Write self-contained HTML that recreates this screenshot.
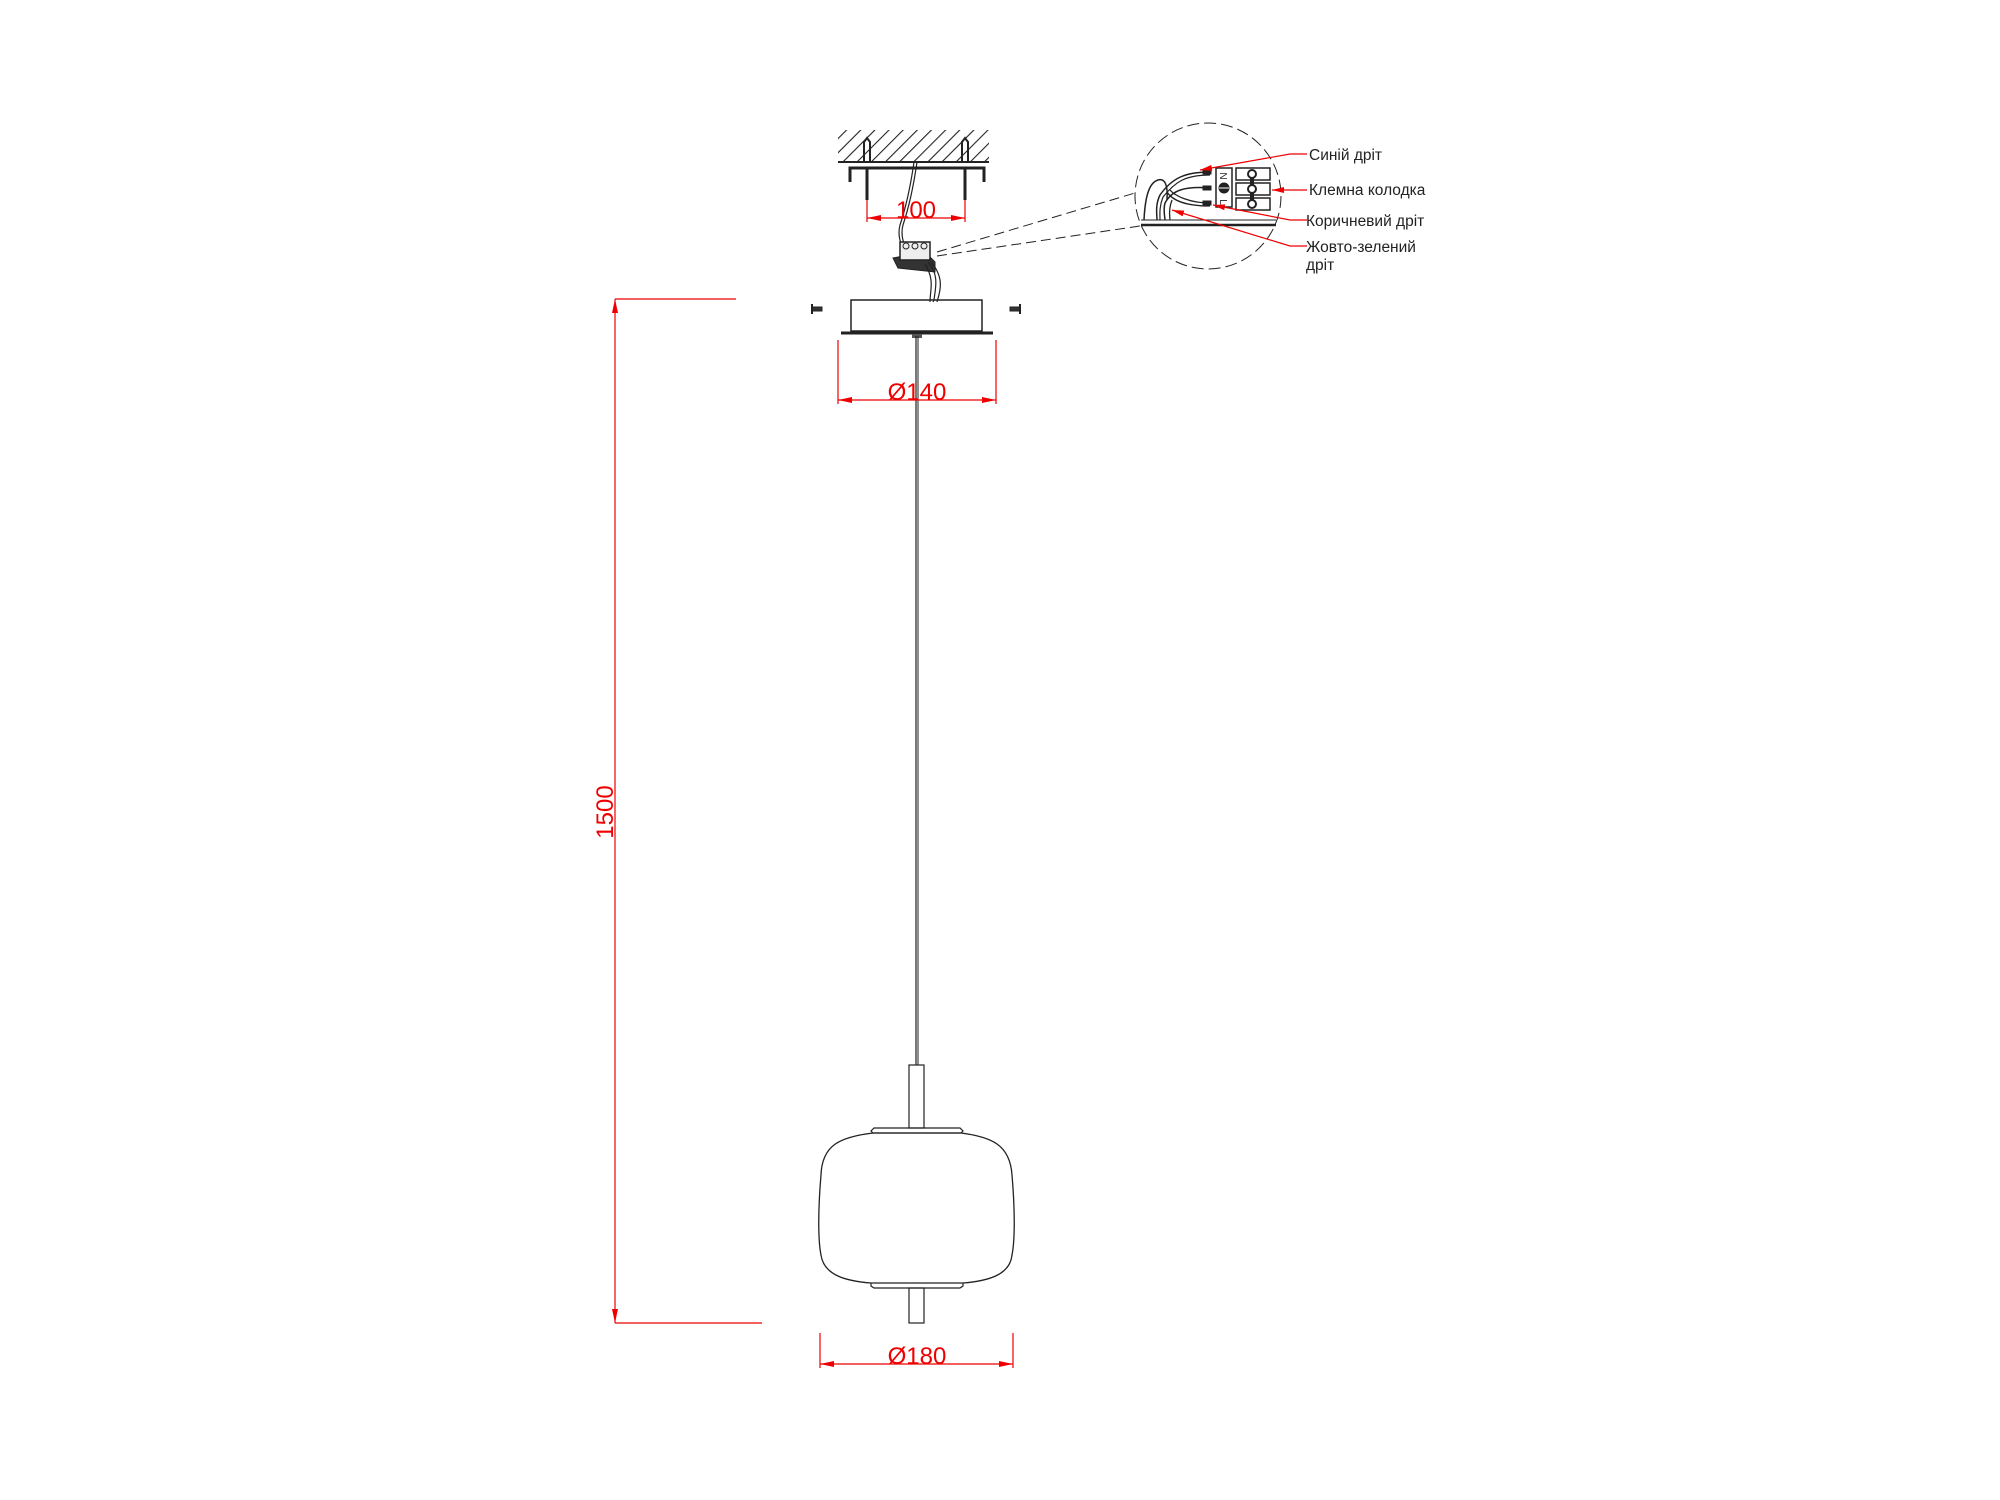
<!DOCTYPE html>
<html><head><meta charset="utf-8"><style>html,body{margin:0;padding:0;background:#fff}svg{display:block}</style></head>
<body>
<svg width="2000" height="1500" viewBox="0 0 2000 1500" xmlns="http://www.w3.org/2000/svg" font-family="Liberation Sans, DejaVu Sans, sans-serif">
<defs>
<pattern id="h" width="10" height="10" patternUnits="userSpaceOnUse" patternTransform="rotate(45)"><line x1="0" y1="0" x2="0" y2="10" stroke="#222" stroke-width="2.2"/></pattern>
<marker id="a" markerWidth="12" markerHeight="6" refX="12" refY="3" orient="auto" markerUnits="userSpaceOnUse"><path d="M0,0 L12,3 L0,6z" fill="#e00"/></marker>
<marker id="s" markerWidth="14" markerHeight="6" refX="14" refY="3" orient="auto-start-reverse" markerUnits="userSpaceOnUse"><path d="M0,0 L14,3 L0,6z" fill="#e00"/></marker>
</defs>
<g fill="none" stroke="#222">
<rect x="838" y="130" width="151" height="32" fill="url(#h)" stroke="none"/>
<line x1="838" y1="162" x2="989" y2="162" stroke-width="2"/>
<path d="M850,182 V168 H984 V182" stroke-width="3"/>
<path d="M864,162 V142 L867,138 L870,142 V162" stroke-width="2"/>
<path d="M962,162 V142 L965,138 L968,142 V162" stroke-width="2"/>
<path d="M867,168 V200" stroke-width="3"/><path d="M965,168 V200" stroke-width="3"/>
<path d="M914,162 C910,190 905,210 900,225 C896,240 905,250 908,262" stroke-width="1.2"/>
<path d="M917,162 C913,190 908,210 903,225 C899,240 908,250 911,262" stroke-width="1.2"/>
<path d="M893,258 L925,252 L935,262 L935,272 L898,268z" fill="#333" stroke-width="1"/>
<rect x="900" y="242" width="30" height="18" fill="#eee" stroke-width="1.5"/>
<circle cx="906" cy="246" r="3"/><circle cx="915" cy="246" r="3"/><circle cx="924" cy="246" r="3"/>
<path d="M928,262 C940,275 935,290 934,300 L933,302" stroke-width="1.2"/>
<path d="M925,264 C935,280 930,290 930,302" stroke-width="1.2"/>
<path d="M931,262 C945,278 940,292 937,302" stroke-width="1.2"/>
<path d="M937,252 L1135,193 M937,256 L1140,226" stroke-width="1" stroke-dasharray="10,5"/>
<rect x="851" y="300" width="131" height="31" stroke-width="1.5"/>
<line x1="841" y1="333" x2="993" y2="333" stroke-width="3"/>
<rect x="812" y="307" width="10" height="4" fill="#333" stroke-width="1"/><path d="M812,304 V314" stroke-width="2"/>
<rect x="1010" y="307" width="10" height="4" fill="#333" stroke-width="1"/><path d="M1020,304 V314" stroke-width="2"/>
<rect x="912" y="334" width="10" height="4" fill="#555" stroke="none"/>
<line x1="916" y1="336" x2="916" y2="1065" stroke-width="1.2"/>
<line x1="918" y1="336" x2="918" y2="1065" stroke-width="1"/>
<rect x="909" y="1065" width="15" height="63" stroke-width="1.2"/>
<path d="M873,1133 L871,1131 L874,1128 H960 L963,1131 L961,1133z" stroke-width="1.2"/>
<path d="M873,1133 C840,1137 822,1145 821,1175 C818,1210 818,1240 821,1255 C824,1275 845,1281 871,1283 H963 C988,1281 1010,1275 1012,1255 C1015,1240 1015,1210 1012,1175 C1010,1145 992,1137 961,1133z" stroke-width="1.3"/>
<path d="M871,1283 V1286 L874,1288 H960 L963,1286 V1283" stroke-width="1.2"/>
<rect x="909" y="1288" width="15" height="35" stroke-width="1.2"/>
<circle cx="1208" cy="196" r="73" stroke-width="1" stroke-dasharray="12,5"/>
<line x1="1141" y1="225" x2="1276" y2="225" stroke-width="2.5"/>
<line x1="1141" y1="220" x2="1276" y2="220" stroke-width="1"/>
<rect x="1216" y="168" width="16" height="39" stroke-width="1.5"/>
<text x="1224" y="180" font-size="10" fill="#222" stroke="none" text-anchor="middle" transform="rotate(90 1224 176)">N</text>
<circle cx="1224" cy="188" r="5" fill="#222"/><line x1="1219" y1="188" x2="1229" y2="188" stroke="#fff" stroke-width="1"/>
<text x="1224" y="206" font-size="10" fill="#222" stroke="none" text-anchor="middle" transform="rotate(90 1224 202)">L</text>
<rect x="1236" y="168" width="34" height="12" stroke-width="1.5"/>
<rect x="1236" y="183" width="34" height="12" stroke-width="1.5"/>
<rect x="1236" y="198" width="34" height="12" stroke-width="1.5"/>
<line x1="1252" y1="174" x2="1252" y2="204" stroke-width="4"/>
<circle cx="1252" cy="174" r="4" fill="#fff" stroke-width="2"/><circle cx="1252" cy="189" r="4" fill="#fff" stroke-width="2"/><circle cx="1252" cy="204" r="4" fill="#fff" stroke-width="2"/>
<path d="M1144,220 C1145,200 1148,183 1158,180 C1165,178 1168,185 1167,200" stroke-width="1.5"/>
<path d="M1210,172 C1185,172 1172,178 1160,195 C1155,205 1157,215 1157,220" stroke-width="1.5"/>
<path d="M1210,175 C1185,175 1175,182 1163,197 C1159,207 1160,215 1160,220" stroke-width="1.2"/>
<path d="M1210,188 C1185,186 1172,190 1165,203 C1163,210 1165,218 1165,220" stroke-width="1.5"/>
<path d="M1210,203 C1190,203 1175,196 1170,190 M1210,206 C1185,206 1172,200 1167,192" stroke-width="1.3"/>
<path d="M1172,200 C1168,210 1170,218 1170,220" stroke-width="1.3"/>
<rect x="1203" y="170" width="8" height="4" fill="#222"/><rect x="1203" y="186" width="8" height="4" fill="#222"/><rect x="1203" y="201" width="8" height="4" fill="#222"/>
</g>
<g stroke="#e00" stroke-width="1.2" fill="none">
<path d="M1307,154 H1290 L1200,170" marker-end="url(#a)"/>
<path d="M1307,190 H1272" marker-end="url(#a)"/>
<path d="M1307,220 H1290 L1213,205" marker-end="url(#a)"/>
<path d="M1307,246 H1290 L1172,210" marker-end="url(#a)"/>
<line x1="867" y1="200" x2="867" y2="222"/><line x1="965" y1="200" x2="965" y2="222"/>
<line x1="867" y1="218" x2="965" y2="218" marker-start="url(#s)" marker-end="url(#s)"/>
<line x1="838" y1="340" x2="838" y2="404"/><line x1="996" y1="340" x2="996" y2="404"/>
<line x1="838" y1="400" x2="996" y2="400" marker-start="url(#s)" marker-end="url(#s)"/>
<line x1="820" y1="1333" x2="820" y2="1368"/><line x1="1013" y1="1333" x2="1013" y2="1368"/>
<line x1="820" y1="1364" x2="1013" y2="1364" marker-start="url(#s)" marker-end="url(#s)"/>
<line x1="615" y1="299" x2="736" y2="299"/><line x1="615" y1="1323" x2="762" y2="1323"/>
<line x1="615" y1="299" x2="615" y2="1323" marker-start="url(#s)" marker-end="url(#s)"/>
</g>
<g fill="#e00" font-size="24" text-anchor="middle">
<text x="916" y="218">100</text>
<text x="917" y="400">Ø140</text>
<text x="917" y="1364">Ø180</text>
<text x="0" y="0" transform="translate(616 812) rotate(-90)" dy="-3">1500</text>
</g>
<g fill="#222" font-size="15.5">
<text x="1309" y="160">Синій дріт</text>
<text x="1309" y="195">Клемна колодка</text>
<text x="1306" y="226">Коричневий дріт</text>
<text x="1306" y="252">Жовто-зелений</text>
<text x="1306" y="270">дріт</text>
</g>
</svg>
</body></html>
